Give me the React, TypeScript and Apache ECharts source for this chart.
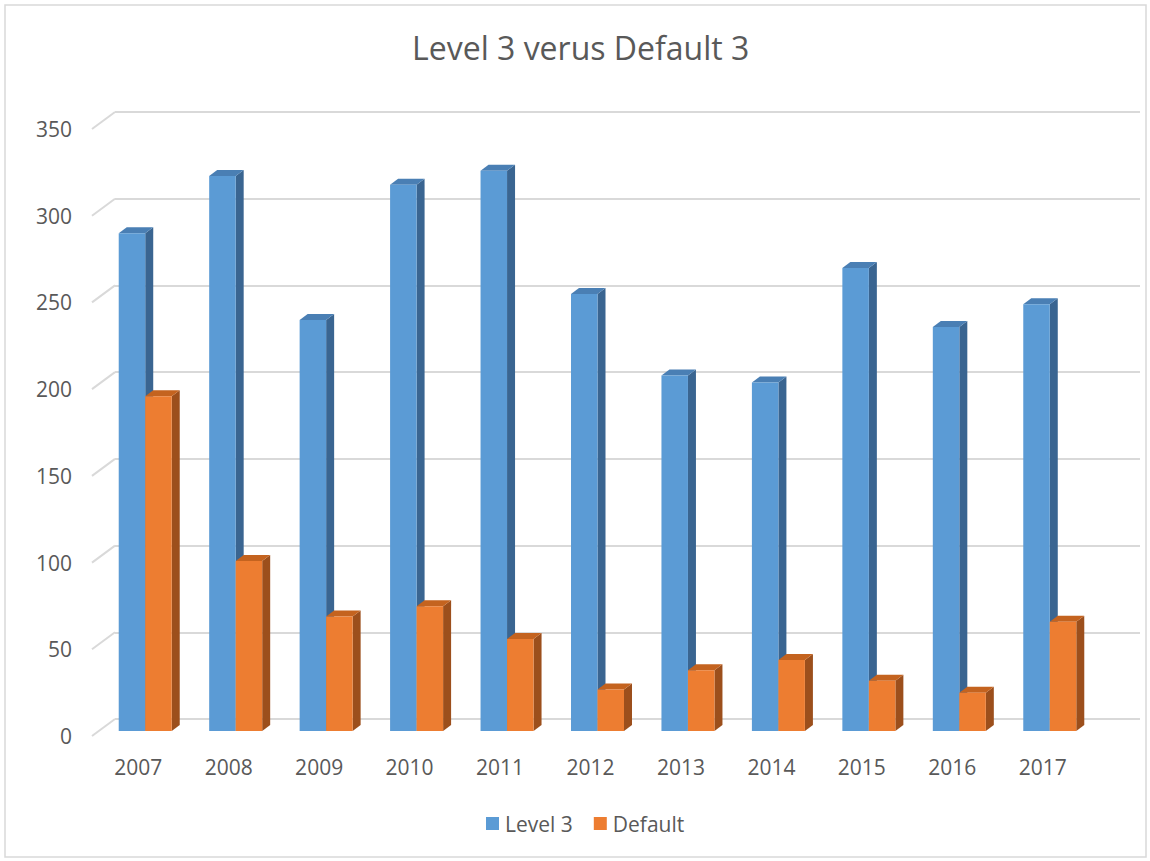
import React, { useEffect, useRef } from "react";
import * as echarts from "echarts";

const years = ["2007", "2008", "2009", "2010", "2011", "2012", "2013", "2014", "2015", "2016", "2017"];
const level3 = [287, 320, 237, 315, 323, 252, 205, 201, 267, 233, 246];
const defaults = [193, 98, 66, 72, 53, 24, 35, 41, 29, 22, 63];
const yTicks = [0, 50, 100, 150, 200, 250, 300, 350];

const FRONT = [7, -5]; // bar front offset from label plane
const DEPTH = [8, -6]; // bar depth
const WALL = [23, -17]; // label plane -> back wall

function makeBar(side: "left" | "right", front: string, sideC: string, topC: string) {
  return (params: any, api: any) => {
    const i = api.value(0);
    const v = api.value(1);
    const base = api.coord([i, 0]);
    const top = api.coord([i, v]);
    const band = api.size([1, 0])[0];
    const w = band * 0.293;
    let x1 = side === "left" ? base[0] - w : base[0];
    let x2 = x1 + w;
    x1 += FRONT[0];
    x2 += FRONT[0];
    const yb = base[1] + FRONT[1];
    const yt = top[1] + FRONT[1];
    const [dx, dy] = DEPTH;
    return {
      type: "group",
      children: [
        {
          type: "polygon",
          shape: { points: [[x2, yt], [x2 + dx, yt + dy], [x2 + dx, yb + dy], [x2, yb]] },
          style: { fill: sideC },
        },
        {
          type: "polygon",
          shape: { points: [[x1, yt], [x1 + dx, yt + dy], [x2 + dx, yt + dy], [x2, yt]] },
          style: { fill: topC },
        },
        {
          type: "rect",
          shape: { x: x1, y: yt, width: x2 - x1, height: yb - yt },
          style: { fill: front },
        },
      ],
    };
  };
}

export default function App() {
  const ref = useRef<HTMLDivElement>(null);
  useEffect(() => {
    const chart = echarts.init(ref.current!, null, { renderer: "svg" });
    const font = "'Open Sans', 'Noto Sans', sans-serif";
    chart.setOption({
      animation: false,
      backgroundColor: "#ffffff",
      color: ["#5B9BD5", "#ED7D31"],
      title: {
        text: "Level 3 verus Default 3",
        left: 407,
        top: 26,
        textStyle: { fontFamily: font, fontSize: 32, fontWeight: "normal", color: "#595959" },
      },
      legend: {
        data: ["Level 3", "Default"],
        bottom: 22,
        left: 481,
        icon: "rect",
        itemWidth: 13,
        itemHeight: 13,
        itemGap: 21,
        textStyle: { fontFamily: font, fontSize: 21, color: "#595959", padding: [0, 0, 0, 1] },
      },
      graphic: [
        {
          type: "rect",
          shape: { x: 5, y: 5, width: 1141, height: 852 },
          style: { fill: "none", stroke: "#d9d9d9", lineWidth: 1.5 },
          silent: true,
        },
      ],
      grid: [
        { left: 93, right: 62, top: 129, bottom: 125 },
        { left: 115, right: 10, top: 112, bottom: 142 },
      ],
      xAxis: [
        {
          type: "category",
          gridIndex: 0,
          data: years,
          axisLine: { show: false },
          axisTick: { show: false },
          axisLabel: { fontFamily: font, fontSize: 21, color: "#595959", margin: 20 },
        },
        { type: "value", gridIndex: 1, min: 0, max: 1, show: false },
      ],
      yAxis: [
        {
          type: "value",
          gridIndex: 0,
          min: 0,
          max: 350,
          interval: 50,
          axisLine: { show: false },
          axisTick: { show: false },
          splitLine: { show: false },
          axisLabel: { fontFamily: font, fontSize: 21, color: "#595959", margin: 21 },
        },
        {
          type: "value",
          gridIndex: 1,
          min: 0,
          max: 350,
          interval: 50,
          axisLine: { show: false },
          axisTick: { show: false },
          axisLabel: { show: false },
          splitLine: { show: true, lineStyle: { color: "#d9d9d9", width: 2 } },
        },
      ],
      series: [
        {
          type: "custom",
          name: "wall",
          xAxisIndex: 0,
          yAxisIndex: 0,
          silent: true,
          data: yTicks.map((t) => [0, t]),
          renderItem: (params: any, api: any) => {
            const y = api.coord([0, api.value(1)])[1];
            const x = params.coordSys.x - 1;
            return {
              type: "line",
              shape: { x1: x, y1: y, x2: x + WALL[0], y2: y + WALL[1] },
              style: { stroke: "#d9d9d9", lineWidth: 2 },
            };
          },
          z: 1,
        },
        {
          type: "custom",
          name: "Level 3",
          xAxisIndex: 0,
          yAxisIndex: 0,
          itemStyle: { color: "#5B9BD5" },
          data: level3.map((v, i) => [i, v]),
          renderItem: makeBar("left", "#5B9BD5", "#3A6591", "#4A7FB4"),
          z: 2,
        },
        {
          type: "custom",
          name: "Default",
          xAxisIndex: 0,
          yAxisIndex: 0,
          itemStyle: { color: "#ED7D31" },
          data: defaults.map((v, i) => [i, v]),
          renderItem: makeBar("right", "#ED7D31", "#9C4F1C", "#C4631F"),
          z: 3,
        },
      ],
    });
    return () => chart.dispose();
  }, []);
  return (
    <div
      ref={ref}
      style={{ position: "fixed", left: 0, top: 0, width: 1150, height: 861, background: "#fff" }}
    />
  );
}
